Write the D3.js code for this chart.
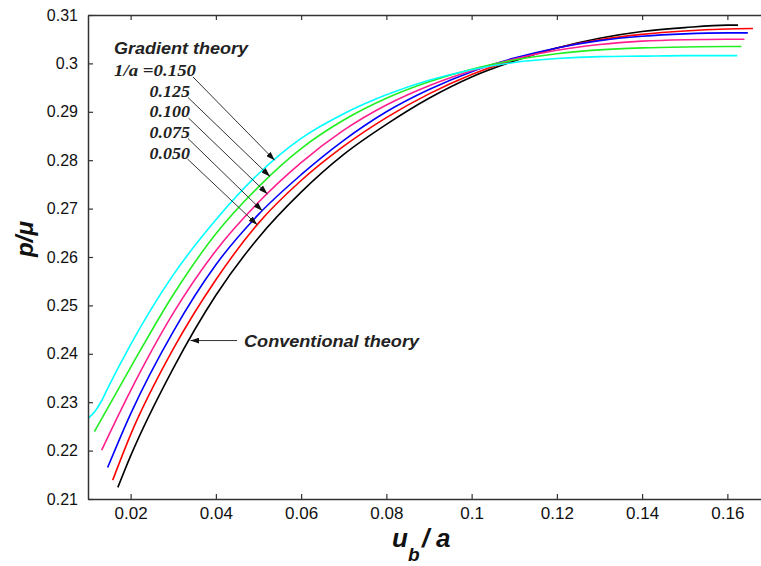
<!DOCTYPE html>
<html>
<head>
<meta charset="utf-8">
<script src="https://cdn.jsdelivr.net/npm/d3@7"></script>
<style>
  body { margin: 0; background: #fff; }
  svg { display: block; }
</style>
</head>
<body>
<div id="chart"></div>
<script>
// Tick values of both axes
var xTicks = [0.02, 0.04, 0.06, 0.08, 0.1, 0.12, 0.14, 0.16];
var yTicks = [0.21, 0.22, 0.23, 0.24, 0.25, 0.26, 0.27, 0.28, 0.29, 0.3, 0.31];

// Curves, [u_b/a, p/mu]
var conventional = [[0.017,0.2124],[0.02,0.2189],[0.03,0.2370],[0.04,0.2521],[0.05,0.2640],[0.06,0.2734],[0.07,0.2812],[0.08,0.2874],[0.09,0.2928],[0.10,0.2972],[0.11,0.3005],[0.12,0.3032],[0.13,0.3052],[0.14,0.3066],[0.15,0.3074],[0.16,0.3079],[0.1625,0.3079]];
var grad050 = [[0.0158,0.2139],[0.02,0.2233],[0.03,0.2410],[0.04,0.2553],[0.05,0.2670],[0.06,0.2758],[0.07,0.2829],[0.08,0.2888],[0.09,0.2937],[0.10,0.2977],[0.11,0.3008],[0.12,0.3032],[0.13,0.3049],[0.14,0.3060],[0.15,0.3067],[0.16,0.3071],[0.166,0.3072]];
var grad075 = [[0.0146,0.2165],[0.02,0.2276],[0.03,0.2446],[0.04,0.2584],[0.05,0.2688],[0.06,0.2770],[0.07,0.2841],[0.08,0.2900],[0.09,0.2946],[0.10,0.2983],[0.11,0.3011],[0.12,0.3032],[0.13,0.3047],[0.14,0.3056],[0.15,0.3061],[0.16,0.3063],[0.1648,0.3063]];
var grad100 = [[0.0132,0.2201],[0.02,0.2324],[0.03,0.2484],[0.04,0.2613],[0.05,0.2713],[0.06,0.2795],[0.07,0.2862],[0.08,0.2914],[0.09,0.2954],[0.10,0.2985],[0.11,0.3009],[0.12,0.3027],[0.13,0.3039],[0.14,0.3046],[0.15,0.3049],[0.16,0.3050],[0.164,0.3050]];
var grad125 = [[0.0115,0.2239],[0.02,0.2372],[0.03,0.2522],[0.04,0.2648],[0.05,0.2745],[0.06,0.2824],[0.07,0.2883],[0.08,0.2928],[0.09,0.2962],[0.10,0.2988],[0.11,0.3007],[0.12,0.3020],[0.13,0.3028],[0.14,0.3032],[0.15,0.3034],[0.16,0.3035],[0.1633,0.3035]];
var grad150 = [[0.0101,0.2267],[0.0117,0.2282],[0.0132,0.2303],[0.0147,0.2330],[0.02,0.2419],[0.03,0.2563],[0.04,0.2677],[0.05,0.2772],[0.06,0.2845],[0.07,0.2896],[0.08,0.2935],[0.09,0.2965],[0.10,0.2987],[0.11,0.3002],[0.12,0.3010],[0.13,0.3014],[0.14,0.3015],[0.15,0.3016],[0.16,0.3016],[0.1623,0.3016]];

var series = [
  { values: conventional, color: '#000000' },
  { values: grad050, color: '#ff0000' },
  { values: grad075, color: '#0000ff' },
  { values: grad100, color: '#ff1f8f' },
  { values: grad125, color: '#22ee22' },
  { values: grad150, color: '#00ffff' }
];

// Gradient theory labels and the x where each arrow touches its curve
var gradLabels = ['1/a =0.150', '0.125', '0.100', '0.075', '0.050'];
var gradCurves = [grad150, grad125, grad100, grad075, grad050];
var arrowTipX = [0.0538, 0.0527, 0.0521, 0.0509, 0.0497];

var width = 761, height = 566;
var margins = { left: 88, top: 15, bottom: 67 };

var x = d3.scaleLinear().domain([0.01, 0.17]).range([margins.left, 770]);
var y = d3.scaleLinear().domain([0.21, 0.31]).range([height - margins.bottom, margins.top]);

var svg = d3.select('#chart').append('svg')
            .attr('width', width)
            .attr('height', height);

var sans = 'Arial, "Liberation Sans", sans-serif';
var serif = '"Times New Roman", "Liberation Serif", serif';

// arrow head
svg.append('defs').append('marker')
   .attr('id', 'head')
   .attr('markerUnits', 'userSpaceOnUse')
   .attr('markerWidth', 9).attr('markerHeight', 6)
   .attr('refX', 9).attr('refY', 3)
   .attr('orient', 'auto')
   .append('path').attr('d', 'M0,0 L9,3 L0,6 Z').attr('fill', '#111');

// Curves
var line = d3.line()
             .x(function(d) { return x(d[0]); })
             .y(function(d) { return y(d[1]); })
             .curve(d3.curveMonotoneX);

svg.append('g').selectAll('path').data(series)
   .enter().append('path')
   .attr('d', function(d) { return line(d.values); })
   .style('fill', 'none')
   .style('stroke', function(d) { return d.color; })
   .style('stroke-width', 1.6);

// Axes, MATLAB style inward ticks
var xAxis = d3.axisBottom(x).tickValues(xTicks).tickSizeInner(-5).tickSizeOuter(0)
              .tickPadding(8).tickFormat(d3.format('~g'));
var xTop = d3.axisTop(x).tickValues(xTicks).tickSizeInner(-5).tickSizeOuter(0).tickFormat('');
var yAxis = d3.axisLeft(y).tickValues(yTicks).tickSizeInner(-5).tickSizeOuter(0)
              .tickPadding(10).tickFormat(d3.format('~g'));

var gx = svg.append('g').attr('transform', 'translate(0,' + y(0.21) + ')').call(xAxis);
var gt = svg.append('g').attr('transform', 'translate(0,' + y(0.31) + ')').call(xTop);
var gy = svg.append('g').attr('transform', 'translate(' + x(0.01) + ',0)').call(yAxis);

[gx, gt, gy].forEach(function(g) {
  g.select('.domain').style('stroke', '#333').style('stroke-width', 1.5);
  g.selectAll('.tick line').style('stroke', '#333').style('stroke-width', 1.2);
  g.selectAll('text').style('font-family', sans).style('fill', '#111');
});
gx.selectAll('text').style('font-size', '17px');
gy.selectAll('text').style('font-size', '16px');

// Axis titles
var xt = svg.append('text')
            .attr('x', 392).attr('y', 547)
            .style('font-family', sans).style('font-weight', 'bold').style('font-style', 'italic')
            .style('font-size', '26px').style('fill', '#111');
xt.append('tspan').text('u');
xt.append('tspan').attr('dy', 14).style('font-size', '19px').text('b');
xt.append('tspan').attr('x', 422).attr('dy', -14).text('/');
xt.append('tspan').attr('x', 436).text('a');

svg.append('text')
   .attr('transform', 'translate(33,239) rotate(-90)')
   .attr('text-anchor', 'middle')
   .style('font-family', sans).style('font-weight', 'bold').style('font-style', 'italic')
   .style('font-size', '24px').style('fill', '#111')
   .text('p/\u03bc');

// Annotations
var interp = function(curve, xv) {
  var xs = curve.map(function(d) { return d[0]; });
  var i = d3.bisectLeft(xs, xv);
  var a = curve[i - 1], b = curve[i];
  return a[1] + (b[1] - a[1]) * (xv - a[0]) / (b[0] - a[0]);
};

svg.append('text')
   .attr('x', 114).attr('y', 53.5)
   .attr('textLength', 134).attr('lengthAdjust', 'spacingAndGlyphs')
   .style('font-family', sans).style('font-weight', 'bold').style('font-style', 'italic')
   .style('font-size', '17px').style('fill', '#222')
   .text('Gradient theory');

var labelX = [114, 149.5, 149.5, 149.5, 149.5];
var labelW = [82, 40.5, 40.5, 40.5, 40.5];
var labelY = [76, 96.8, 117.4, 138, 158.5];
var arrowStart = [[193, 77], [188, 97.5], [188.5, 118], [188, 138.5], [187.5, 159]];

gradLabels.forEach(function(t, i) {
  svg.append('text')
     .attr('x', labelX[i]).attr('y', labelY[i])
     .attr('textLength', labelW[i]).attr('lengthAdjust', 'spacingAndGlyphs')
     .style('font-family', serif).style('font-weight', 'bold').style('font-style', 'italic')
     .style('font-size', '17px').style('fill', '#222')
     .text(t);
  svg.append('line')
     .attr('x1', arrowStart[i][0]).attr('y1', arrowStart[i][1])
     .attr('x2', x(arrowTipX[i])).attr('y2', y(interp(gradCurves[i], arrowTipX[i])))
     .attr('marker-end', 'url(#head)')
     .style('stroke', '#333').style('stroke-width', 1);
});

// Conventional theory label
var convTipX = 0.0338;
svg.append('line')
   .attr('x1', 237).attr('y1', y(interp(conventional, convTipX)))
   .attr('x2', x(convTipX) + 1).attr('y2', y(interp(conventional, convTipX)))
   .attr('marker-end', 'url(#head)')
   .style('stroke', '#333').style('stroke-width', 1);

svg.append('text')
   .attr('x', 244).attr('y', y(interp(conventional, convTipX)) + 6)
   .attr('textLength', 175).attr('lengthAdjust', 'spacingAndGlyphs')
   .style('font-family', sans).style('font-weight', 'bold').style('font-style', 'italic')
   .style('font-size', '17px').style('fill', '#222')
   .text('Conventional theory');
</script>
</body>
</html>
